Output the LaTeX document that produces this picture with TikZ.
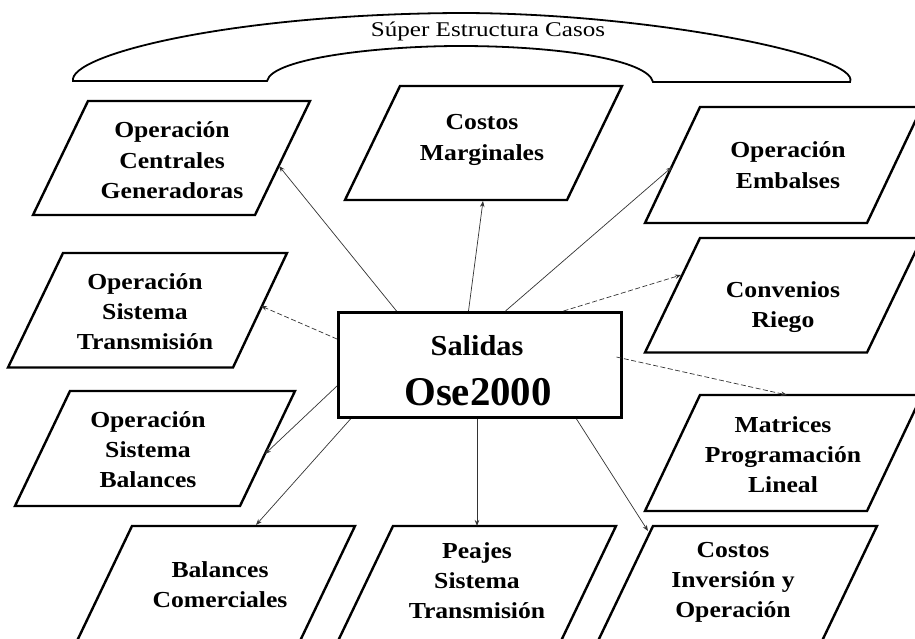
\documentclass[tikz,border=0pt]{standalone}
\usepackage{fontspec}
\usepackage{graphicx}
\setmainfont{Liberation Serif}
\usetikzlibrary{arrows.meta}
\tikzset{
  pbox/.style={draw=black, line width=2.4bp, line join=miter},
  lbl/.style={anchor=base, inner sep=0pt, font=\fontsize{23}{30.5}\selectfont\bfseries},
  mainbox/.style={draw=black, line width=3bp, minimum width=283bp, minimum height=105bp, inner sep=0pt},
  arr/.style={draw=black!80, line width=0.7bp, -{Stealth[length=6bp,width=4.5bp]}},
  arrd/.style={arr, dash pattern=on 5bp off 2.5bp},
  archline/.style={draw=black, line width=1.8bp}
}
\newcommand{\lines}[1]{\scalebox{1.12}[1]{\begin{tabular}[t]{@{}c@{}}#1\end{tabular}}}
\begin{document}
\begin{tikzpicture}[x=1bp,y=-1bp]
\useasboundingbox (0,0) rectangle (915,639);
\clip (0,0) rectangle (915,639);
\fill[white] (0,0) rectangle (915,639);

% arch
\draw[archline] (73,81) .. controls (68,55) and (230,14) .. (460,13)
  .. controls (650,13) and (862,56) .. (850,82) -- (653,82)
  .. controls (648,60) and (560,46) .. (460,46)
  .. controls (380,46) and (272,58) .. (267,81) -- cycle;
\node[anchor=base, inner sep=0pt, font=\fontsize{21}{24}\selectfont] (sup) at (488,37) {\scalebox{1.2}[1]{Súper Estructura Casos}};

% parallelograms
\draw[pbox] (88,101) -- (310,101) -- (255,215) -- (33,215) -- cycle;
\draw[pbox] (400,86) -- (622,86) -- (567,200) -- (345,200) -- cycle;
\draw[pbox] (700,107) -- (922,107) -- (867,223) -- (645,223) -- cycle;
\draw[pbox] (63,253) -- (287,253) -- (233,367.5) -- (8,367.5) -- cycle;
\draw[pbox] (700,238) -- (922,238) -- (867,352.5) -- (645,352.5) -- cycle;
\draw[pbox] (70,391) -- (295,391) -- (240,506) -- (15,506) -- cycle;
\draw[pbox] (700,395) -- (922,395) -- (867,511) -- (645,511) -- cycle;
\draw[pbox] (132,526) -- (355,526) -- (300,641) -- (77,641) -- cycle;
\draw[pbox] (393,526) -- (616,526) -- (561,641) -- (338,641) -- cycle;
\draw[pbox] (653,526) -- (877,526) -- (822,641) -- (598,641) -- cycle;

% labels
\node[lbl] (cg) at (172,138) {\lines{Operación\\Centrales\\Generadoras}};
\node[lbl] (cm) at (482,130) {\lines{Costos\\Marginales}};
\node[lbl] (em) at (788,158) {\lines{Operación\\Embalses}};
\node[lbl] (ot) at (145,289) {\lines{Operación\\Sistema\\Transmisión}};
\node[lbl] (cr) at (783,297) {\lines{Convenios\\Riego}};
\node[lbl] (ob) at (148,427) {\lines{Operación\\Sistema\\Balances}};
\node[lbl] (mp) at (783,432) {\lines{Matrices\\Programación\\Lineal}};
\node[lbl] (bc) at (220,577) {\lines{Balances\\Comerciales}};
\node[lbl] (ps) at (477,558) {\lines{Peajes\\Sistema\\Transmisión}};
\node[lbl] (ci) at (733,557) {\lines{Costos\\Inversión y\\Operación}};

% central box
\node[mainbox] (sal) at (480,365) {};
\node[anchor=base, inner sep=0pt, font=\fontsize{29}{32}\selectfont\bfseries] (salA) at (477,355) {\scalebox{1.05}[1]{Salidas}};
\node[anchor=base, inner sep=0pt, font=\fontsize{41}{44}\selectfont\bfseries] (salB) at (478,405) {Ose2000};

% arrow tips
\coordinate (tcg) at (279,166);
\coordinate (tcm) at (483,201);
\coordinate (tem) at (672,167);
\coordinate (tcr) at (681,275);
\coordinate (tmp) at (787,395);
\coordinate (tci) at (648,531);
\coordinate (tps) at (477,526);
\coordinate (tbc) at (256,525);
\coordinate (tob) at (265,454);
\coordinate (tot) at (261,306);

% connectors
\draw[arr] ([shift={(59.5,0)}]sal.north west) -- (tcg);
\draw[arr] ([shift={(131.5,0)}]sal.north west) -- (tcm);
\draw[arr] ([shift={(168.5,0)}]sal.north west) -- (tem);
\draw[arrd] ([shift={(226.5,0)}]sal.north west) -- (tcr);
\draw[arrd] ([shift={(-6.5,-8)}]sal.east) -- (tmp);
\draw[arr] ([shift={(239.5,0)}]sal.south west) -- (tci);
\draw[arr] ([shift={(-3,0)}]sal.south) -- (tps);
\draw[arr] ([shift={(13.5,0)}]sal.south west) -- (tbc);
\draw[arr] ([shift={(0,21)}]sal.west) -- (tob);
\draw[arrd] ([shift={(0,-26)}]sal.west) -- (tot);
\end{tikzpicture}
\end{document}
